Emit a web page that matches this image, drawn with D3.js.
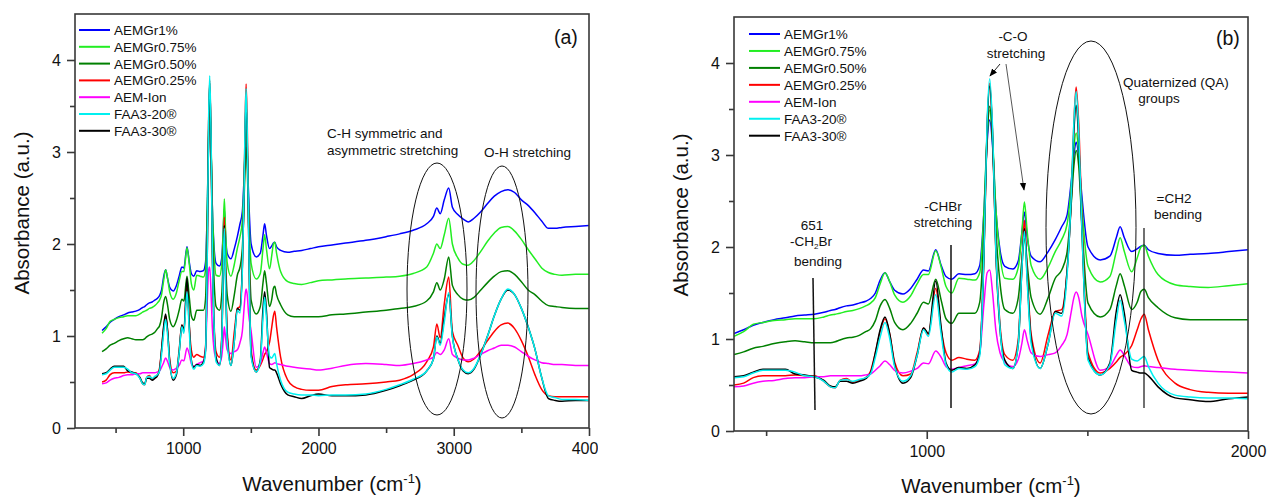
<!DOCTYPE html>
<html><head><meta charset="utf-8">
<script src="https://cdn.jsdelivr.net/npm/d3@7"></script>
<style>
body{margin:0;background:#fff;}
svg{display:block;font-family:Arial,"Liberation Sans",sans-serif;}
</style></head>
<body><svg id="c" width="1270" height="497"></svg>
<script>
// ---- data (wavenumber grid, cm-1) ----
const wavenumber = [
 400,430,460,490,525,560,590,620,650,680,
 700,715,730,750,770,790,810,825,840,855,
 870,885,900,926,950,970,990,1005,1028,1045,
 1060,1078,1100,1125,1150,1165,1178,1188,1196,1205,
 1215,1228,1243,1268,1285,1296,1304,1313,1325,1353,
 1378,1400,1420,1437,1450,1458,1465,1473,1483,1502,
 1540,1570,1590,1602,1615,1638,1655,1667,1677,1690,
 1720,1773,1820,1876,1940,2000,2100,2200,2350,2500,
 2600,2700,2800,2850,2875,2900,2930,2963,2990,3030,
 3070,3107,3150,3200,3250,3300,3350,3400,3450,3500,
 3550,3600,3650,3700,3750,3800,3900,4000];
const aemGr1 = [
 1.06,1.10,1.15,1.18,1.21,1.23,1.25,1.26,1.27,1.29,
 1.31,1.32,1.34,1.36,1.37,1.39,1.41,1.44,1.50,1.64,
 1.72,1.62,1.53,1.49,1.55,1.65,1.75,1.74,1.97,1.80,
 1.68,1.65,1.71,1.70,1.71,1.80,2.39,3.14,3.38,3.09,
 2.42,1.97,1.79,1.76,1.85,2.15,2.38,2.10,1.90,1.84,
 1.95,2.08,2.22,2.35,2.72,3.00,3.14,2.98,2.55,2.00,
 1.86,1.90,2.10,2.22,2.10,1.95,1.98,2.01,2.02,1.97,
 1.93,1.91,1.92,1.93,1.95,1.97,1.99,2.01,2.04,2.08,
 2.11,2.15,2.22,2.30,2.39,2.33,2.48,2.61,2.40,2.32,
 2.27,2.24,2.28,2.35,2.44,2.52,2.57,2.59,2.56,2.48,
 2.42,2.34,2.25,2.17,2.17,2.18,2.19,2.20];
const aemGr075 = [
 1.03,1.08,1.16,1.18,1.20,1.21,1.22,1.22,1.22,1.24,
 1.26,1.27,1.28,1.30,1.31,1.33,1.36,1.39,1.45,1.60,
 1.72,1.62,1.48,1.40,1.47,1.60,1.70,1.70,1.96,1.78,
 1.57,1.50,1.66,1.65,1.64,1.72,2.38,3.22,3.49,3.17,
 2.42,1.91,1.66,1.65,1.78,2.15,2.49,2.15,1.80,1.65,
 1.78,1.95,2.08,2.25,2.68,3.08,3.24,3.03,2.45,1.79,
 1.62,1.68,1.95,2.10,1.95,1.73,1.88,2.00,2.02,1.90,
 1.70,1.59,1.57,1.56,1.58,1.60,1.61,1.62,1.63,1.64,
 1.65,1.68,1.75,1.90,2.00,1.95,2.10,2.28,2.00,1.85,
 1.78,1.77,1.82,1.92,2.03,2.12,2.18,2.19,2.14,2.05,
 1.94,1.84,1.74,1.69,1.67,1.66,1.67,1.67];
const aemGr050 = [
 0.83,0.86,0.90,0.92,0.95,0.97,0.98,0.97,0.96,0.96,
 0.96,0.97,0.99,1.01,1.02,1.04,1.08,1.11,1.20,1.36,
 1.43,1.33,1.18,1.10,1.17,1.28,1.40,1.38,1.65,1.42,
 1.22,1.17,1.28,1.28,1.28,1.40,2.18,3.20,3.53,3.14,
 2.22,1.61,1.32,1.28,1.45,1.85,2.11,1.80,1.45,1.27,
 1.45,1.66,1.75,1.95,2.48,2.88,3.05,2.88,2.25,1.39,
 1.24,1.32,1.58,1.71,1.58,1.32,1.40,1.52,1.54,1.45,
 1.34,1.23,1.21,1.21,1.21,1.21,1.23,1.24,1.26,1.28,
 1.30,1.32,1.38,1.48,1.58,1.50,1.62,1.86,1.55,1.45,
 1.40,1.39,1.42,1.50,1.58,1.65,1.70,1.71,1.67,1.59,
 1.50,1.45,1.38,1.33,1.32,1.31,1.30,1.30];
const aemGr025 = [
 0.50,0.52,0.58,0.60,0.60,0.60,0.61,0.60,0.60,0.54,
 0.48,0.47,0.55,0.57,0.53,0.55,0.58,0.65,0.85,1.08,
 1.22,1.05,0.75,0.60,0.62,0.85,1.12,1.05,1.55,1.10,
 0.85,0.77,0.80,0.78,0.77,0.88,1.93,3.33,3.78,3.24,
 1.99,1.16,0.83,0.77,1.00,1.80,2.29,1.70,1.05,0.74,
 1.05,1.30,1.32,1.75,2.55,3.35,3.74,3.35,2.30,0.85,
 0.63,0.68,0.75,0.80,0.83,0.93,1.10,1.22,1.27,1.10,
 0.77,0.52,0.45,0.42,0.41,0.41,0.45,0.47,0.48,0.50,
 0.52,0.58,0.72,0.88,1.13,0.98,1.35,1.64,1.05,0.90,
 0.76,0.72,0.75,0.84,0.95,1.05,1.12,1.14,1.08,0.95,
 0.78,0.58,0.42,0.35,0.34,0.34,0.34,0.34];
const aemIon = [
 0.48,0.49,0.52,0.54,0.55,0.57,0.58,0.58,0.59,0.59,
 0.60,0.60,0.60,0.60,0.60,0.60,0.61,0.62,0.66,0.71,
 0.76,0.72,0.66,0.63,0.65,0.68,0.74,0.73,0.87,0.80,
 0.70,0.67,0.69,0.71,0.73,0.85,1.38,1.72,1.75,1.50,
 1.10,0.85,0.75,0.70,0.78,0.95,1.10,0.98,0.85,0.81,
 0.83,0.85,0.93,1.05,1.30,1.45,1.51,1.45,1.25,1.05,
 0.66,0.70,0.82,0.88,0.82,0.70,0.69,0.70,0.71,0.70,
 0.69,0.67,0.66,0.65,0.64,0.63,0.65,0.68,0.70,0.69,
 0.68,0.70,0.74,0.77,0.82,0.80,0.85,0.97,0.80,0.76,
 0.74,0.74,0.76,0.80,0.84,0.87,0.90,0.90,0.88,0.83,
 0.78,0.74,0.71,0.70,0.69,0.69,0.68,0.68];
const faa320 = [
 0.58,0.59,0.63,0.66,0.66,0.66,0.64,0.60,0.59,0.54,
 0.48,0.47,0.55,0.56,0.54,0.56,0.58,0.62,0.80,1.02,
 1.18,1.00,0.70,0.54,0.60,0.82,1.10,1.03,1.48,1.05,
 0.72,0.64,0.68,0.67,0.70,0.82,1.92,3.37,3.83,3.28,
 1.98,1.12,0.72,0.68,0.95,1.75,2.17,1.60,0.95,0.68,
 0.95,1.28,1.25,1.70,2.58,3.35,3.69,3.25,2.20,0.77,
 0.61,0.72,1.20,1.42,1.20,0.78,0.76,0.79,0.81,0.70,
 0.52,0.39,0.37,0.36,0.36,0.35,0.36,0.36,0.37,0.42,
 0.47,0.53,0.62,0.75,0.99,0.90,1.15,1.47,0.99,0.75,
 0.63,0.60,0.65,0.80,1.00,1.22,1.40,1.51,1.45,1.30,
 1.10,0.86,0.55,0.35,0.33,0.31,0.31,0.30];
const faa330 = [
 0.59,0.60,0.64,0.67,0.67,0.67,0.62,0.61,0.59,0.55,
 0.49,0.48,0.54,0.54,0.52,0.54,0.57,0.63,0.85,1.10,
 1.24,1.05,0.72,0.52,0.58,0.82,1.12,1.06,1.63,1.12,
 0.74,0.66,0.69,0.68,0.72,0.85,1.89,3.30,3.75,3.21,
 1.95,1.11,0.77,0.68,0.95,1.75,2.20,1.65,1.00,0.68,
 0.95,1.30,1.28,1.75,2.52,3.25,3.54,3.15,2.18,0.80,
 0.61,0.74,1.30,1.48,1.28,0.66,0.64,0.63,0.63,0.60,
 0.48,0.36,0.34,0.32,0.35,0.37,0.35,0.35,0.36,0.41,
 0.46,0.52,0.62,0.75,1.00,0.92,1.20,1.45,1.00,0.75,
 0.62,0.59,0.64,0.80,1.00,1.22,1.40,1.50,1.45,1.30,
 1.10,0.86,0.55,0.32,0.30,0.29,0.30,0.30];
const seriesNames = ["AEMGr1%","AEMGr0.75%","AEMGr0.50%","AEMGr0.25%","AEM-Ion","FAA3-20®","FAA3-30®"];
const seriesValues = [aemGr1, aemGr075, aemGr050, aemGr025, aemIon, faa320, faa330];
const xTicksA = [1000,2000,3000,4000], xMinorA = [500,1500,2500,3500];
const xTicksB = [1000,2000], xMinorB = [500,1500];
const yTicks = [0,1,2,3,4], yMinor = [0.5,1.5,2.5,3.5];

// ---- styles ----
const colors = ["#0000ff","#22ee22","#008000","#ff0000","#ff00ff","#00f0f0","#000000"];
const drawOrder = [0,1,2,3,4,6,5];
const axisColor = "#383838";

const svg = d3.select("#c");
const defs = svg.append("defs");
defs.append("clipPath").attr("id","clipA").append("rect").attr("x",0).attr("y",0).attr("width",598).attr("height",497);
defs.append("clipPath").attr("id","plotA").append("rect").attr("x",75).attr("y",14).attr("width",514).attr("height",414);
defs.append("clipPath").attr("id","plotB").append("rect").attr("x",734).attr("y",17).attr("width",514).attr("height",414);
defs.append("marker").attr("id","arrow").attr("viewBox","0 0 10 10").attr("refX",9).attr("refY",5)
  .attr("markerWidth",8).attr("markerHeight",8).attr("orient","auto-start-reverse")
  .attr("markerUnits","userSpaceOnUse")
  .append("path").attr("d","M0,1 L10,5 L0,9 z").attr("fill","#000");

function panel(g, x, y, xTicks, xMinor, clipId, xDom) {
  const [x0,x1] = x.range(), [y0,y1] = y.range();
  const lg = g.append("g").attr("clip-path",`url(#${clipId})`);
  const line = d3.line().curve(d3.curveMonotoneX);
  drawOrder.forEach(i => {
    const pts = wavenumber.map((w,j)=>[w, seriesValues[i][j]]).filter(p => p[0] >= xDom[0]-60 && p[0] <= xDom[1]+60);
    lg.append("path").attr("d", line(pts.map(p=>[x(p[0]), y(p[1])])))
      .attr("fill","none").attr("stroke",colors[i]).attr("stroke-width",1.5).attr("stroke-linejoin","round");
  });
  g.append("rect").attr("x",x0).attr("y",y1).attr("width",x1-x0).attr("height",y0-y1)
    .attr("fill","none").attr("stroke",axisColor).attr("stroke-width",1.6);
  const ax = g.append("g").attr("transform",`translate(0,${y0})`)
    .call(d3.axisBottom(x).tickValues(xTicks).tickSize(8).tickPadding(7).tickFormat(d3.format("d")));
  const axm = g.append("g").attr("transform",`translate(0,${y0})`)
    .call(d3.axisBottom(x).tickValues(xMinor).tickSize(5).tickFormat(""));
  const ay = g.append("g").attr("transform",`translate(${x0},0)`)
    .call(d3.axisLeft(y).tickValues(yTicks).tickSize(8).tickPadding(6).tickFormat(d3.format("d")));
  const aym = g.append("g").attr("transform",`translate(${x0},0)`)
    .call(d3.axisLeft(y).tickValues(yMinor).tickSize(5).tickFormat(""));
  [ax,axm,ay,aym].forEach(a=>{
    a.select(".domain").remove();
    a.selectAll("line").attr("stroke",axisColor).attr("stroke-width",1.6);
    a.selectAll("text").attr("font-size",16).attr("fill","#111").attr("font-family",'Arial,"Liberation Sans",sans-serif');
  });
}

function legend(g, lx, ly, dy) {
  seriesNames.forEach((n,i)=>{
    g.append("line").attr("x1",lx).attr("x2",lx+31).attr("y1",ly+i*dy).attr("y2",ly+i*dy)
      .attr("stroke",colors[i]).attr("stroke-width",2);
    g.append("text").attr("x",lx+35).attr("y",ly+i*dy+5).attr("font-size",13.5).attr("fill","#111").text(n);
  });
}

function text(g, x, y, s, anchor="start", size=13.5) {
  return g.append("text").attr("x",x).attr("y",y).attr("text-anchor",anchor).attr("font-size",size).attr("fill","#111").text(s);
}

function xTitle(g, cx, by) {
  const t = g.append("text").attr("x",cx).attr("y",by).attr("text-anchor","middle").attr("font-size",20.5).attr("fill","#111");
  t.append("tspan").text("Wavenumber (cm");
  t.append("tspan").attr("dy",-8).attr("font-size",13).text("-1");
  t.append("tspan").attr("dy",8).text(")");
}
function yTitle(g, bx, cy) {
  g.append("text").attr("transform",`translate(${bx},${cy}) rotate(-90)`).attr("text-anchor","middle")
    .attr("font-size",20.5).attr("fill","#111").text("Absorbance (a.u.)");
}

// ---- panel (a) ----
const gA = svg.append("g").attr("clip-path","url(#clipA)");
const xA = d3.scaleLinear().domain([200,4000]).range([75,589]);
const yA = d3.scaleLinear().domain([0,4.5]).range([428,14]);
panel(gA, xA, yA, xTicksA, xMinorA, "plotA", [400,4000]);
legend(gA, 79, 30, 16.8);
text(gA, 554, 44, "(a)", "start", 19.5);
text(gA, 327, 138, "C-H symmetric and");
text(gA, 327, 155, "asymmetric stretching");
text(gA, 484, 157, "O-H stretching");
gA.append("ellipse").attr("cx",437).attr("cy",289).attr("rx",30).attr("ry",126).attr("fill","none").attr("stroke","#111").attr("stroke-width",1);
gA.append("ellipse").attr("cx",502).attr("cy",292).attr("rx",26).attr("ry",126).attr("fill","none").attr("stroke","#111").attr("stroke-width",1);
xTitle(gA, 332, 491);
yTitle(gA, 29, 213);

// ---- panel (b) ----
const gB = svg.append("g");
const xB = d3.scaleLinear().domain([400,2000]).range([734,1248]);
const yB = d3.scaleLinear().domain([0,4.5]).range([431,17]);
panel(gB, xB, yB, xTicksB, xMinorB, "plotB", [400,2000]);
legend(gB, 749, 34, 16.95);
text(gB, 1216, 45, "(b)", "start", 19.5);
text(gB, 1013, 41, "-C-O", "middle");
text(gB, 1016, 58, "stretching", "middle");
gB.append("line").attr("x1",1000).attr("y1",64).attr("x2",990).attr("y2",76).attr("stroke","#222").attr("stroke-width",1).attr("marker-end","url(#arrow)");
gB.append("line").attr("x1",1006).attr("y1",64).attr("x2",1024).attr("y2",190).attr("stroke","#444").attr("stroke-width",0.9).attr("marker-end","url(#arrow)");
gB.append("ellipse").attr("cx",1091).attr("cy",227.5).attr("rx",45).attr("ry",186.5).attr("fill","none").attr("stroke","#111").attr("stroke-width",1);
text(gB, 1123, 87, "Quaternized (QA)");
text(gB, 1159, 103, "groups", "middle");
text(gB, 1174, 203, "=CH2", "middle");
text(gB, 1178, 219, "bending", "middle");
gB.append("line").attr("x1",1144).attr("y1",228).attr("x2",1144).attr("y2",408).attr("stroke","#111").attr("stroke-width",1.2);
text(gB, 943, 211, "-CHBr", "middle");
text(gB, 943, 227, "stretching", "middle");
gB.append("line").attr("x1",951).attr("y1",245).attr("x2",951).attr("y2",408).attr("stroke","#111").attr("stroke-width",1.5);
text(gB, 812, 230, "651", "middle");
const ch = gB.append("text").attr("x",811).attr("y",246).attr("text-anchor","middle").attr("font-size",13.5).attr("fill","#111");
ch.append("tspan").text("-CH");
ch.append("tspan").attr("dy",3).attr("font-size",8).text("2");
ch.append("tspan").attr("dy",-3).text("Br");
text(gB, 818, 266, "bending", "middle");
gB.append("line").attr("x1",813).attr("y1",278).attr("x2",815).attr("y2",410).attr("stroke","#111").attr("stroke-width",1.5);
xTitle(gB, 991, 493);
yTitle(gB, 688, 215);
</script></body></html>
